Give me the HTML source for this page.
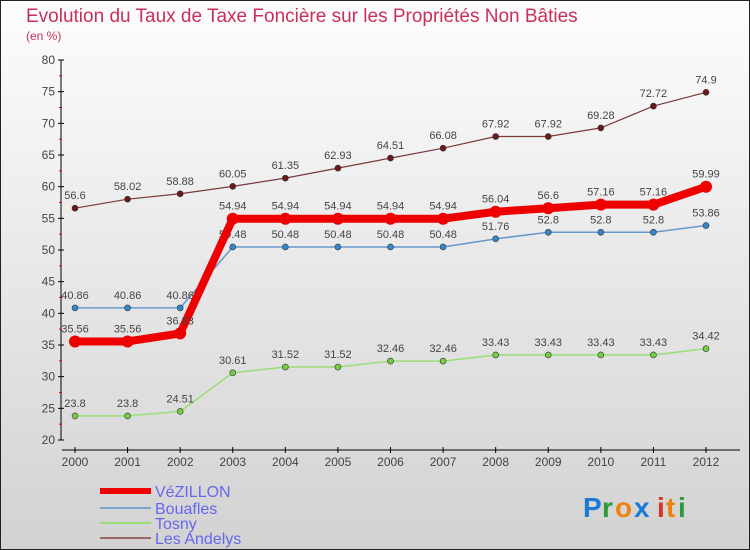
<!DOCTYPE html>
<html><head><meta charset="utf-8"><style>
body{margin:0}
svg{display:block;font-family:"Liberation Sans",sans-serif}
</style></head><body>
<svg id="c" width="750" height="550" xmlns="http://www.w3.org/2000/svg">
<defs><linearGradient id="bg" x1="0" y1="0" x2="0" y2="1"><stop offset="0" stop-color="#fdfdfd"/><stop offset="1" stop-color="#d2d2d2"/></linearGradient></defs>
<rect x="0.5" y="0.5" width="749" height="549" fill="url(#bg)" stroke="#222"/>
<text x="26" y="22" font-size="19" fill="#c8305a">Evolution du Taux de Taxe Foncière sur les Propriétés Non Bâties</text>
<text x="26" y="40" font-size="12" fill="#c8305a">(en %)</text>
<g id="axes"></g>
<g id="series"></g>
<g id="legend"></g>
<g font-size="28" font-weight="bold">
<text x="583" y="517" fill="#1a7ad4">P</text><text x="602" y="517" fill="#2a9a3a">r</text><text x="615" y="517" fill="#f08010">o</text><text x="634" y="517" fill="#1a7ad4">x</text><text x="657" y="517" fill="#e03020">i</text><text x="666" y="517" fill="#f08010">t</text><text x="678" y="517" fill="#2a9a3a">i</text>
</g>
</svg>
<script>
const years=["2000","2001","2002","2003","2004","2005","2006","2007","2008","2009","2010","2011","2012"];
const yTicks=[20,25,30,35,40,45,50,55,60,65,70,75,80];
const vezillon=[35.56,35.56,36.83,54.94,54.94,54.94,54.94,54.94,56.04,56.6,57.16,57.16,59.99];
const bouafles=[40.86,40.86,40.86,50.48,50.48,50.48,50.48,50.48,51.76,52.8,52.8,52.8,53.86];
const tosny=[23.8,23.8,24.51,30.61,31.52,31.52,32.46,32.46,33.43,33.43,33.43,33.43,34.42];
const andelys=[56.6,58.02,58.88,60.05,61.35,62.93,64.51,66.08,67.92,67.92,69.28,72.72,74.9];
const NS="http://www.w3.org/2000/svg";
const X=i=>75+i*(706-75)/12;
const Y=v=>440-(v-20)*(380/60);
function mk(t,a,p){const e=document.createElementNS(NS,t);for(const k in a)e.setAttribute(k,a[k]);p.appendChild(e);return e;}
const ax=document.getElementById('axes');
mk('line',{x1:61,y1:60,x2:61,y2:440,stroke:'#000'},ax);
mk('line',{x1:62,y1:450,x2:740,y2:450,stroke:'#000'},ax);
yTicks.forEach(v=>{
 mk('line',{x1:58,y1:Y(v),x2:64,y2:Y(v),stroke:'#000'},ax);
 if(v<80)mk('line',{x1:59,y1:Y(v+2.5),x2:62,y2:Y(v+2.5),stroke:'#e00'},ax);
 const t=mk('text',{x:55,y:Y(v)+4,'text-anchor':'end','font-size':12,fill:'#444'},ax);
 t.textContent=v;
 
 
});
years.forEach((y,i)=>{
 mk('line',{x1:X(i),y1:447,x2:X(i),y2:453,stroke:'#000'},ax);
 const t=mk('text',{x:X(i),y:466,'text-anchor':'middle','font-size':12,fill:'#444'},ax);
 t.textContent=y;
 
 
});
const sg=document.getElementById('series');
function draw(vals,col,w,r,dot,name){
 const g=mk('g',{},sg);
 
 
 mk('polyline',{points:vals.map((v,i)=>X(i)+','+Y(v)).join(' '),fill:'none',stroke:col,'stroke-width':w,'stroke-linejoin':'round'},g);
 vals.forEach((v,i)=>{
  const c=mk('circle',{cx:X(i),cy:Y(v),r:r,fill:dot,stroke:'#333','stroke-width':r>4?0:0.6},g);
  
  
  const t=mk('text',{x:X(i),y:Y(v)-9,'text-anchor':'middle','font-size':11,fill:'#444'},g);
  t.textContent=v;
  
  
 });
}
draw(andelys,'#7a3a3a',1.2,3,'#6a1a1a','les-andelys-series');
draw(tosny,'#99dd77',1.5,3,'#77cc44','tosny-series');
draw(bouafles,'#6699cc',1.5,3,'#3388cc','bouafles-series');
draw(vezillon,'#ee0000',8,6,'#ee0000','vezillon-series');
const lg=document.getElementById('legend');
[["VéZILLON","#ee0000",6,491],["Bouafles","#7aa6cc",2,508],["Tosny","#99dd77",2,523],["Les Andelys","#996666",2,538]].forEach(d=>{
 const g=mk('g',{},lg);
 
 
 mk('line',{x1:100,y1:d[3],x2:151,y2:d[3],stroke:d[1],'stroke-width':d[2]},g);
 const t=mk('text',{x:155,y:d[3]+6,'font-size':16,fill:'#6666ee'},g);
 t.textContent=d[0];
});
</script>
</body></html>
